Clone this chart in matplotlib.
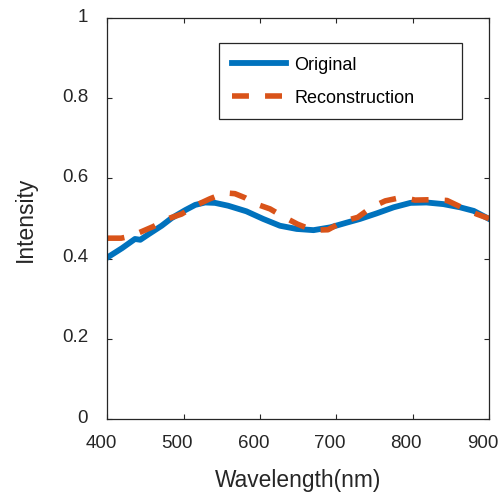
import numpy as np
import matplotlib.pyplot as plt
from matplotlib.transforms import ScaledTranslation

plt.rcParams['font.family'] = ['Liberation Sans', 'DejaVu Sans']

# measured spectrum
wl_orig = [400, 419, 436, 443, 454, 471, 484, 502, 515, 528, 541, 558, 582, 604,
           626, 648, 670, 692, 714, 731, 753, 775, 797, 818, 840, 862, 880, 900]
int_orig = [0.403, 0.426, 0.449, 0.447, 0.461, 0.482, 0.501, 0.521, 0.534, 0.540,
            0.539, 0.532, 0.518, 0.499, 0.482, 0.474, 0.471, 0.478, 0.490, 0.499,
            0.513, 0.528, 0.539, 0.540, 0.536, 0.528, 0.519, 0.499]

# reconstructed spectrum
wl_rec = [400, 418, 430, 443, 460, 480, 497, 517, 534, 554, 567, 580, 595, 613,
          632, 649, 669, 689, 709, 728, 746, 764, 786, 803, 826, 845, 866, 884, 900]
int_rec = [0.451, 0.451, 0.456, 0.466, 0.480, 0.500, 0.511, 0.534, 0.549, 0.564,
           0.562, 0.552, 0.536, 0.524, 0.503, 0.486, 0.471, 0.472, 0.493, 0.503,
           0.528, 0.544, 0.553, 0.546, 0.547, 0.545, 0.526, 0.511, 0.500]

blue = '#0072BD'
orange = '#D95319'
dark = '#262626'

fig = plt.figure(figsize=(5.03, 5.02), dpi=100)
ax = fig.add_axes([0.2137, 0.1633, 0.7585, 0.7988])

ax.plot(wl_orig, int_orig, color=blue, lw=4.2, label='Original')
ax.plot(wl_rec, int_rec, color=orange, lw=4.0, dashes=(3.05, 2.9),
        label='Reconstruction')

ax.set_xlim(400, 900)
ax.set_ylim(0, 1)
ax.set_xticks([400, 500, 600, 700, 800, 900])
ax.set_yticks([0, 0.2, 0.4, 0.6, 0.8, 1])
ax.set_yticklabels(['0', '0.2', '0.4', '0.6', '0.8', '1'])
ax.tick_params(direction='in', top=True, right=True, length=3.6, width=0.8,
               labelsize=13.5, colors=dark)
ax.tick_params(axis='x', pad=11)
ax.tick_params(axis='y', pad=14)
for s in ax.spines.values():
    s.set_color(dark)
    s.set_linewidth(0.9)

# nudge tick labels: x labels a bit left, y labels a bit up
dx = ScaledTranslation(-6.5 / 100, 0, fig.dpi_scale_trans)
dy = ScaledTranslation(0, 4 / 100, fig.dpi_scale_trans)
for lbl in ax.get_xticklabels():
    lbl.set_transform(lbl.get_transform() + dx)
for lbl in ax.get_yticklabels():
    lbl.set_transform(lbl.get_transform() + dy)

ax.set_xlabel('Wavelength(nm)', fontsize=16.4, color=dark, labelpad=12)
ax.set_ylabel('Intensity', fontsize=16.4, color=dark, labelpad=18)

leg = ax.legend(loc='upper left', bbox_to_anchor=(0.292, 0.751, 0.637, 0.187),
                mode='expand', fontsize=13, handlelength=3.0, handletextpad=0.45,
                labelspacing=0.9, borderpad=0.72, borderaxespad=0,
                fancybox=False, framealpha=1)
leg.get_frame().set_edgecolor(dark)
leg.get_frame().set_linewidth(0.9)

fig.savefig('out.png', dpi=100)
